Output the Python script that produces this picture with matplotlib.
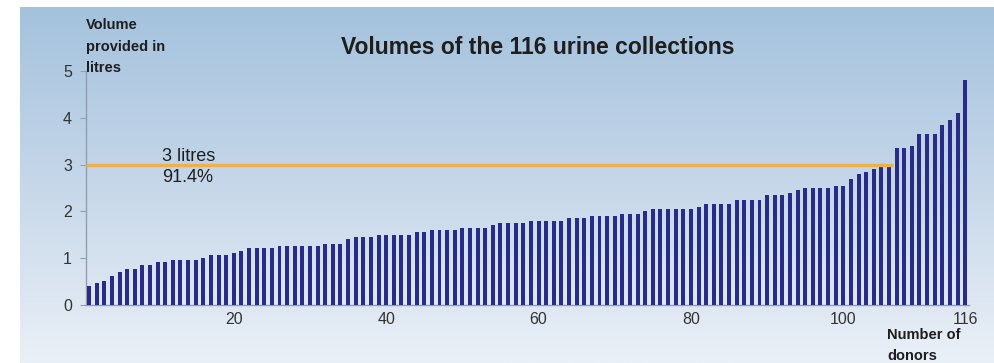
import numpy as np
import matplotlib
matplotlib.use('Agg')
import matplotlib.pyplot as plt
from matplotlib.colors import LinearSegmentedColormap

plt.rcParams['font.family'] = ['Liberation Sans', 'DejaVu Sans']

# Volumes (litres) of the 116 collections, sorted
volumes = [0.41, 0.46, 0.51, 0.61, 0.71, 0.76, 0.76, 0.86, 0.86, 0.91,
           0.91, 0.96, 0.96, 0.96, 0.96, 1.01, 1.06, 1.06, 1.06, 1.11,
           1.16, 1.21, 1.21, 1.21, 1.21, 1.26, 1.26, 1.26, 1.26, 1.26,
           1.26, 1.30, 1.30, 1.30, 1.40, 1.45, 1.45, 1.45, 1.50, 1.50,
           1.50, 1.50, 1.50, 1.55, 1.55, 1.60, 1.60, 1.60, 1.60, 1.65,
           1.65, 1.65, 1.65, 1.70, 1.75, 1.75, 1.75, 1.75, 1.80, 1.80,
           1.80, 1.80, 1.80, 1.85, 1.85, 1.85, 1.90, 1.90, 1.90, 1.90,
           1.95, 1.95, 1.95, 2.00, 2.05, 2.05, 2.05, 2.05, 2.05, 2.05,
           2.10, 2.15, 2.15, 2.15, 2.15, 2.25, 2.25, 2.25, 2.25, 2.35,
           2.35, 2.35, 2.40, 2.45, 2.50, 2.50, 2.50, 2.50, 2.55, 2.55,
           2.70, 2.80, 2.85, 2.90, 2.95, 2.95, 3.35, 3.35, 3.40, 3.65,
           3.65, 3.65, 3.85, 3.95, 4.10, 4.80]
donors = np.arange(1, len(volumes) + 1)

threshold = 3.0
threshold_label = '3 litres\n91.4%'
xtick_vals = [20, 40, 60, 80, 100, 116]
ytick_vals = [0, 1, 2, 3, 4, 5]

W, H = 995, 363
fig = plt.figure(figsize=(W / 100, H / 100), dpi=100, facecolor='white')

# blue gradient background panel
bg = fig.add_axes([20 / W, 0, 975 / W, 356 / H])
cmap = LinearSegmentedColormap.from_list(
    'bg', [(0.0, '#eaf0f7'), (0.5, '#c6d7e9'), (1.0, '#a4c2dd')])
grad = np.linspace(0, 1, 256).reshape(-1, 1)
bg.imshow(grad, aspect='auto', cmap=cmap, origin='lower', extent=[0, 1, 0, 1])
bg.axis('off')

ax = fig.add_axes([86 / W, (H - 305) / H, (969 - 86) / W, (305 - 71) / H])
ax.patch.set_alpha(0)

ax.bar(donors, volumes, width=0.52, color='#292b88', zorder=3)
ax.hlines(threshold, 0.6, 106.5, color='#eeb04a', linewidth=2.4, zorder=4)

ax.set_xlim(0.6, 116.5)
ax.set_ylim(0, 5)
ax.set_xticks(xtick_vals)
ax.set_yticks(ytick_vals)

for s in ['top', 'right']:
    ax.spines[s].set_visible(False)
for s in ['left', 'bottom']:
    ax.spines[s].set_color('#8e9fb1')
    ax.spines[s].set_linewidth(1.0)

ax.tick_params(axis='y', length=4, color='#8e9fb1', pad=6,
               labelsize=11.5, labelcolor='#333333')
ax.tick_params(axis='x', length=0, pad=5,
               labelsize=11.5, labelcolor='#333333')

# texts
fig.text(538 / W, 1 - 48 / H, 'Volumes of the 116 urine collections',
         ha='center', va='center', fontsize=16.5, fontweight='bold',
         color='#1e1e1e')
fig.text(86 / W, 1 - 18 / H, 'Volume\nprovided in\nlitres',
         ha='left', va='top', fontsize=10.5, fontweight='bold',
         color='#1e1e1e', linespacing=1.7)
fig.text(162 / W, 1 - 148 / H, threshold_label,
         ha='left', va='top', fontsize=13, color='#1e1e1e',
         linespacing=1.3)
fig.text(887 / W, 1 - 328 / H, 'Number of\ndonors',
         ha='left', va='top', fontsize=10.5, fontweight='bold',
         color='#1e1e1e', linespacing=1.6)

fig.savefig('out.png', dpi=100, facecolor='white')
